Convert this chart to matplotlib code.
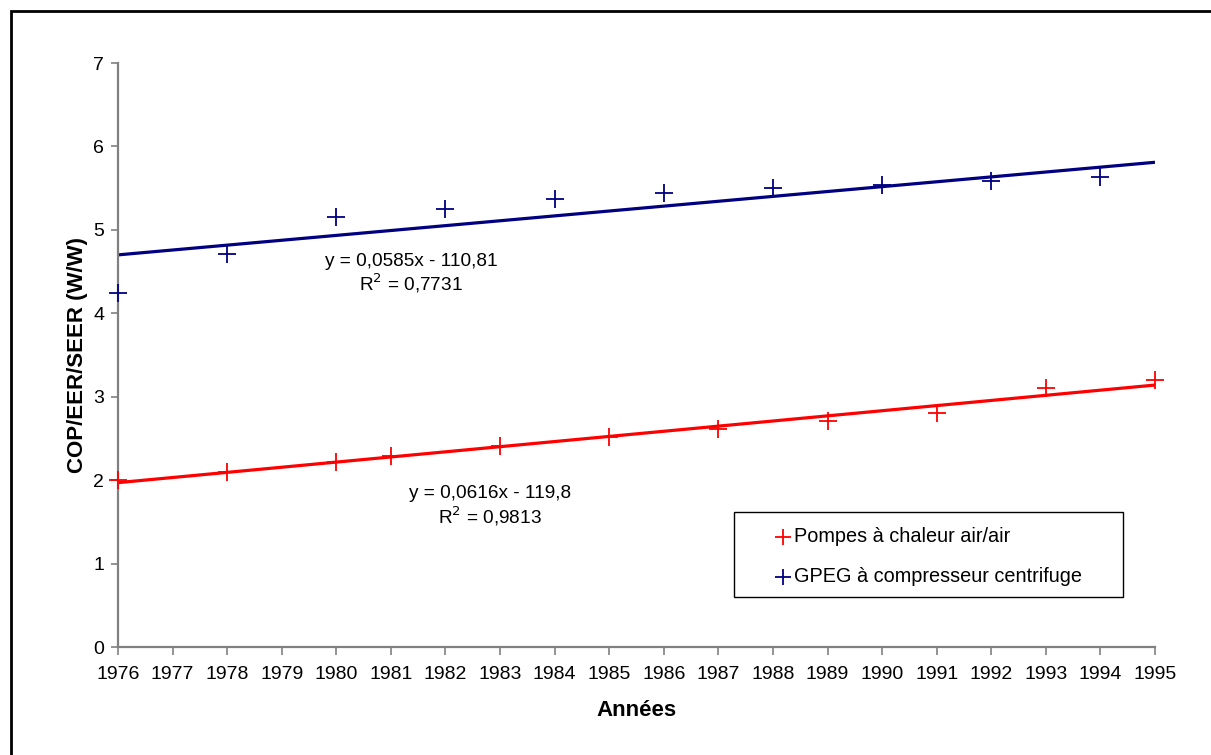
import numpy as np
import matplotlib
matplotlib.use("Agg")
import matplotlib.pyplot as plt
from matplotlib.lines import Line2D
from matplotlib.patches import Rectangle

plt.rcParams['font.family'] = ['Liberation Sans', 'DejaVu Sans']

years_red = [1976, 1978, 1980, 1981, 1983, 1985, 1987, 1989, 1991, 1993, 1995]
cop_red = [2.0, 2.10, 2.22, 2.29, 2.41, 2.52, 2.61, 2.71, 2.81, 3.10, 3.20]
years_blue = [1976, 1978, 1980, 1982, 1984, 1986, 1988, 1990, 1992, 1994]
cop_blue = [4.24, 4.71, 5.15, 5.25, 5.37, 5.44, 5.50, 5.54, 5.59, 5.63]
trend_years = [1976, 1995]
trend_red = [1.97, 3.14]
trend_blue = [4.70, 5.81]
xticks = list(range(1976, 1996))
yticks = list(range(0, 8))
label_red = "Pompes à chaleur air/air"
label_blue = "GPEG à compresseur centrifuge"
eq_red = "y = 0,0616x - 119,8\nR$^2$ = 0,9813"
eq_blue = "y = 0,0585x - 110,81\nR$^2$ = 0,7731"

RED = "#FF0000"
BLUE = "#000080"
GRAY = "#808080"

W, H = 1211, 755
fig = plt.figure(figsize=(W / 100, H / 100), dpi=100)
ax = fig.add_axes([118 / W, 1 - 647 / H, (1155 - 118) / W, (647 - 63) / H])

# outer border (left/top visible, right/bottom cut off)
fig.patches.append(Rectangle((11 / W, -0.5), 2.0, 1 - 11 / H + 0.5,
                             transform=fig.transFigure, fill=False,
                             edgecolor="black", linewidth=2.0, clip_on=False))

ax.plot(trend_years, trend_red, color=RED, lw=2.3, solid_capstyle='butt', zorder=2)
ax.plot(trend_years, trend_blue, color=BLUE, lw=2.3, solid_capstyle='butt', zorder=2)

mk = dict(linestyle='none', marker='+', ms=13, mew=1.3, clip_on=False, zorder=3)
ax.plot(years_red, cop_red, color=RED, **mk)
ax.plot(years_blue, cop_blue, color=BLUE, **mk)

ax.set_xlim(1976, 1995)
ax.set_ylim(0, 7)
ax.set_xticks(xticks)
ax.set_xticklabels([str(t) for t in xticks])
ax.set_yticks(yticks)
for s in ['top', 'right']:
    ax.spines[s].set_visible(False)
for s in ['left', 'bottom']:
    ax.spines[s].set_color(GRAY)
    ax.spines[s].set_linewidth(1.6)
ax.tick_params(axis='both', colors=GRAY, labelcolor='black', labelsize=14,
               width=1.2, direction='out')
ax.tick_params(axis='x', length=6, pad=8)
ax.tick_params(axis='y', length=5, pad=5)

ax.set_xlabel("Années", fontsize=16, fontweight='bold', labelpad=12)
ax.set_ylabel("COP/EER/SEER (W/W)", fontsize=16, fontweight='bold', labelpad=4)

ax.text(1981.37, 4.47, eq_blue, ha='center', va='center', fontsize=13.7,
        multialignment='center', linespacing=1.08)
ax.text(1982.82, 1.68, eq_red, ha='center', va='center', fontsize=13.7,
        multialignment='center', linespacing=1.12)

# legend box drawn manually to match the reference placement
fig.add_artist(Rectangle((734 / W, 1 - 597 / H), (1123 - 734) / W, 85 / H,
                         transform=fig.transFigure, fill=True, facecolor='white',
                         edgecolor='black', linewidth=1.0, zorder=5))
for yy, col, lab in [(537, RED, label_red), (577, BLUE, label_blue)]:
    fig.add_artist(Line2D([783 / W], [1 - yy / H], transform=fig.transFigure,
                          linestyle='none', marker='+', ms=11, mew=1.3,
                          color=col, zorder=6))
    fig.text(794 / W, 1 - yy / H, lab, ha='left', va='center', fontsize=14.3,
             zorder=6)

fig.savefig("out.png", dpi=100, facecolor='white')
